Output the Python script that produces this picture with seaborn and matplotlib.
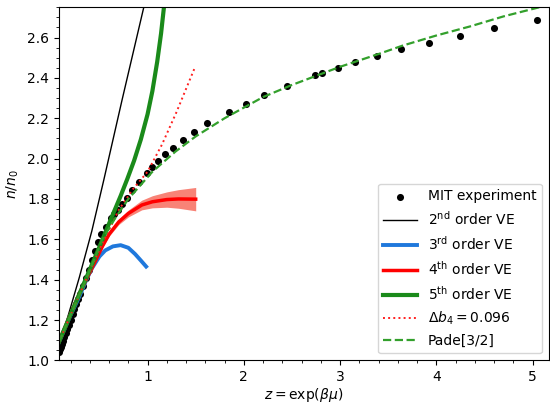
import matplotlib
matplotlib.use("Agg")
import matplotlib.pyplot as plt
from matplotlib.ticker import MultipleLocator
import seaborn as sns
import numpy as np

# MIT experiment
mit_z = [0.08, 0.09, 0.10, 0.11, 0.12, 0.135, 0.15, 0.165, 0.18, 0.20, 0.22, 0.24,
         0.26, 0.28, 0.30, 0.33, 0.36, 0.39, 0.42, 0.45, 0.48, 0.52, 0.565, 0.615,
         0.655, 0.694, 0.735, 0.787, 0.843, 0.912, 0.989, 1.044, 1.109, 1.186, 1.269,
         1.369, 1.483, 1.618, 1.85, 2.023, 2.214, 2.453, 2.736, 2.812, 2.978, 3.159,
         3.38, 3.63, 3.92, 4.245, 4.60, 5.05]
mit_n = [1.04, 1.055, 1.068, 1.082, 1.096, 1.116, 1.136, 1.156, 1.176, 1.202, 1.228, 1.254,
         1.28, 1.305, 1.33, 1.37, 1.41, 1.45, 1.495, 1.54, 1.585, 1.628, 1.663, 1.707,
         1.725, 1.744, 1.777, 1.807, 1.845, 1.884, 1.929, 1.959, 1.990, 2.022, 2.055,
         2.093, 2.131, 2.176, 2.233, 2.273, 2.314, 2.361, 2.412, 2.424, 2.451, 2.481,
         2.510, 2.541, 2.574, 2.609, 2.647, 2.685]

# 2nd order virial expansion
ve2_z = [0.078, 0.18, 0.29, 0.42, 0.545, 0.735, 0.961, 0.99]
ve2_n = [1.07, 1.23, 1.41, 1.64, 1.894, 2.291, 2.751, 2.81]

# 3rd order
ve3_z = [0.078, 0.2, 0.29, 0.36, 0.42, 0.5, 0.56, 0.64, 0.72, 0.8, 0.87, 0.93, 0.985]
ve3_n = [1.09, 1.225, 1.315, 1.395, 1.455, 1.515, 1.545, 1.565, 1.571, 1.558, 1.527, 1.495, 1.465]

# 4th order (with uncertainty)
ve4_z = [0.078, 0.2, 0.3, 0.42, 0.53, 0.6, 0.7, 0.8, 0.94, 1.05, 1.2, 1.32, 1.5]
ve4_n = [1.09, 1.23, 1.34, 1.455, 1.565, 1.625, 1.686, 1.728, 1.770, 1.786, 1.797, 1.800, 1.799]
ve4_err = [0.0, 0.002, 0.004, 0.006, 0.008, 0.01, 0.013, 0.017, 0.024, 0.03, 0.038, 0.046, 0.058]

# 5th order
ve5_z = [0.078, 0.216, 0.355, 0.493, 0.632, 0.72, 0.79, 0.86, 0.93, 1.0, 1.05, 1.1, 1.14, 1.17, 1.19]
ve5_n = [1.09, 1.245, 1.40, 1.555, 1.715, 1.815, 1.90, 1.99, 2.095, 2.22, 2.335, 2.48, 2.62, 2.75, 2.85]
ve5_err = [0.0, 0.002, 0.003, 0.004, 0.005, 0.006, 0.007, 0.008, 0.009, 0.01, 0.011, 0.012, 0.013, 0.014, 0.015]

# Delta b4 = 0.096
db4_z = [0.078, 0.3, 0.5, 0.7, 0.85, 1.0, 1.15, 1.3, 1.49]
db4_n = [1.09, 1.335, 1.55, 1.745, 1.85, 1.935, 2.07, 2.23, 2.45]

# Pade[3/2]
pade_z = [0.078, 0.2, 0.35, 0.53, 0.67, 0.8, 1.05, 1.29, 1.5, 1.8, 2.2, 2.5, 2.75, 3.0,
          3.41, 3.65, 4.0, 4.35, 4.7, 5.07, 5.2]
pade_n = [1.09, 1.225, 1.39, 1.60, 1.71, 1.80, 1.935, 2.035, 2.11, 2.20, 2.305, 2.365, 2.41,
          2.455, 2.52, 2.56, 2.61, 2.655, 2.705, 2.75, 2.77]

fig, ax = plt.subplots(figsize=(5.5, 4.04), dpi=100)
fig.subplots_adjust(left=0.107, right=0.998, bottom=0.108, top=0.982)

sns.scatterplot(x=mit_z, y=mit_n, ax=ax, color="black", s=26, linewidth=0,
                label="MIT experiment", zorder=1)
sns.lineplot(x=ve2_z, y=ve2_n, ax=ax, color="black", lw=1.0, sort=False,
             estimator=None, label=r"2$^{\rm nd}$ order VE")
sns.lineplot(x=ve3_z, y=ve3_n, ax=ax, color="#1f78dc", lw=2.8, sort=False,
             estimator=None, label=r"3$^{\rm rd}$ order VE")
lo4 = np.array(ve4_n) - np.array(ve4_err)
hi4 = np.array(ve4_n) + np.array(ve4_err)
ax.fill_between(ve4_z, lo4, hi4, color="#f65a4a", alpha=0.75, lw=0)
sns.lineplot(x=ve4_z, y=ve4_n, ax=ax, color="#ff0000", lw=2.5, sort=False,
             estimator=None, label=r"4$^{\rm th}$ order VE")
lo5 = np.array(ve5_n) - np.array(ve5_err)
hi5 = np.array(ve5_n) + np.array(ve5_err)
ax.fill_between(ve5_z, lo5, hi5, color="#55aa55", alpha=0.6, lw=0)
sns.lineplot(x=ve5_z, y=ve5_n, ax=ax, color="#1a8a1a", lw=3.0, sort=False,
             estimator=None, label=r"5$^{\rm th}$ order VE")
sns.lineplot(x=db4_z, y=db4_n, ax=ax, color="#ff2020", lw=1.4, linestyle=":",
             sort=False, estimator=None, label=r"$\Delta b_4 = 0.096$")
sns.lineplot(x=pade_z, y=pade_n, ax=ax, color="#33a02c", lw=1.6, linestyle="--",
             sort=False, estimator=None, label="Pade[3/2]")

ax.set_xlim(0.078, 5.17)
ax.set_ylim(1.0, 2.75)
ax.xaxis.set_major_locator(MultipleLocator(1))
ax.xaxis.set_minor_locator(MultipleLocator(0.2))
ax.yaxis.set_major_locator(MultipleLocator(0.2))
ax.yaxis.set_minor_locator(MultipleLocator(0.05))
ax.set_xlabel(r"$z = \exp(\beta\mu)$", labelpad=1.5)
ax.set_ylabel(r"$n/n_0$")
ax.legend(loc="lower right", handlelength=2.4)

fig.savefig("out.png", dpi=100)
